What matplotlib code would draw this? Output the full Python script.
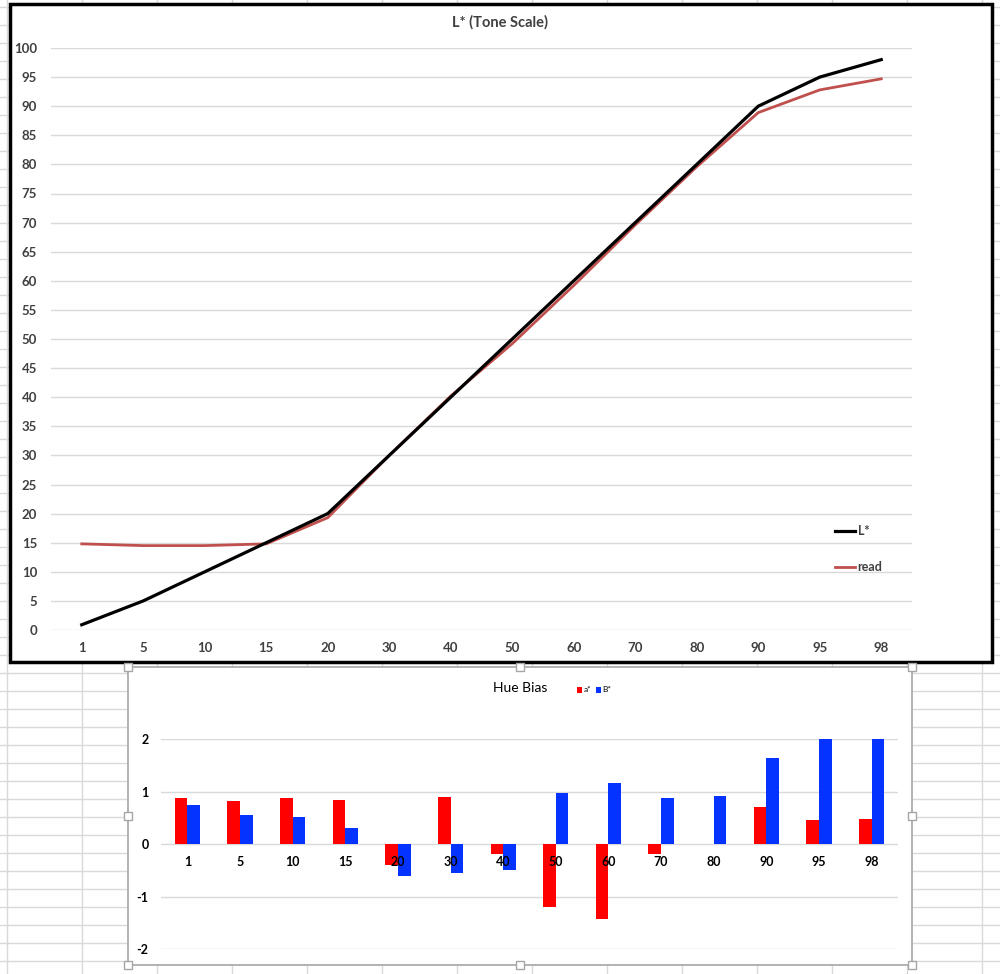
import matplotlib

matplotlib.use("Agg")

import matplotlib.pyplot as plt
import numpy as np
from matplotlib.lines import Line2D
from matplotlib.patches import Rectangle

plt.rcParams["font.family"] = ["Lato", "DejaVu Sans"]
plt.rcParams["axes.unicode_minus"] = False

# tone scale steps (x categories), shared by both charts
steps = ["1", "5", "10", "15", "20", "30", "40", "50", "60", "70", "80", "90", "95", "98"]

# L* target vs. measured ("read")
l_target = [0.9, 5, 10, 15, 20, 30, 40, 50, 60, 70, 80, 90, 95, 98]
l_read = [14.8, 14.5, 14.5, 14.8, 19.3, 30, 40.2, 49.2, 59.2, 69.6, 79.6, 88.9, 92.8, 94.7]

# hue bias per step
a_star = [0.87, 0.82, 0.87, 0.84, -0.39, 0.90, -0.18, -1.19, -1.43, -0.18, 0.0, 0.71, 0.46, 0.48]
b_star = [0.75, 0.55, 0.52, 0.31, -0.61, -0.55, -0.49, 0.97, 1.17, 0.87, 0.92, 1.64, 2.0, 2.0]

W, H = 1000, 974
GRID = "#d9d9d9"
TXT = "#404040"


def fx(px):
    return px / W


def fy(py):
    return 1 - py / H


fig = plt.figure(figsize=(W / 100, H / 100), dpi=100)
fig.patch.set_facecolor("white")

# spreadsheet cells behind the charts
for x in np.arange(7, W, 75):
    fig.add_artist(Line2D([fx(x), fx(x)], [0, 1], color=GRID, lw=1, zorder=-5))
for y in np.arange(7, H, 18):
    fig.add_artist(Line2D([0, 1], [fy(y), fy(y)], color=GRID, lw=1, zorder=-5))

# chart frames
fig.add_artist(Rectangle((fx(10), fy(662)), fx(982), 658 / H, facecolor="white",
                         edgecolor="black", lw=2.5, zorder=-2))
fig.add_artist(Rectangle((fx(128), fy(965)), fx(784), 298 / H, facecolor="white",
                         edgecolor="#a6a6a6", lw=1.2, zorder=-2))
for hx in (128, 520, 912):
    for hy in (667, 816, 965):
        if hx == 520 and hy == 816:
            continue
        fig.add_artist(Rectangle((fx(hx - 4), fy(hy + 4)), fx(8), 8 / H, facecolor="white",
                                 edgecolor="#a6a6a6", lw=1, zorder=5))

x = np.arange(len(steps))

# ---- top chart: L* tone scale ----
ax = fig.add_axes([fx(51), fy(630), fx(861), 582 / H])
ax.set_facecolor("none")
ax.plot(x, l_target, color="black", lw=2.3, label="L*", zorder=3)
ax.plot(x, l_read, color="#c0504d", lw=2.0, label="read", zorder=2)
ax.set_xlim(-0.5, len(steps) - 0.5)
ax.set_ylim(0, 100)
ax.set_yticks(np.arange(0, 101, 5))
ax.set_xticks(x)
ax.set_xticklabels(steps)
ax.grid(axis="y", color=GRID, lw=1)
ax.set_axisbelow(True)
for s in ax.spines.values():
    s.set_visible(False)
ax.tick_params(length=0, labelsize=9.5, labelcolor=TXT)
ax.tick_params(axis="y", pad=10)
ax.tick_params(axis="x", pad=9)
for lab in ax.get_xticklabels() + ax.get_yticklabels():
    lab.set_fontweight("bold")
fig.text(fx(500), fy(22), "L* (Tone Scale)", ha="center", va="center",
         fontsize=10.5, fontweight="bold", color=TXT)
leg = ax.legend(loc="center", bbox_to_anchor=(0.938, 0.139), frameon=False,
                handlelength=1.6, handletextpad=0.25, labelspacing=1.9, fontsize=9)
for t in leg.get_texts():
    t.set_fontweight("bold")
    t.set_color(TXT)

# ---- bottom chart: hue bias ----
bx = fig.add_axes([fx(161), fy(949.3), fx(737), 210.3 / H])
bx.set_facecolor("none")
bw = 0.24
bx.bar(x - bw / 2, a_star, width=bw, color="#ff0000", label="a*", zorder=3)
bx.bar(x + bw / 2, b_star, width=bw, color="#0433ff", label="B*", zorder=3)
bx.set_xlim(-0.5, len(steps) - 0.5)
bx.set_ylim(-2, 2)
bx.set_yticks([-2, -1, 0, 1, 2])
bx.set_xticks(x)
bx.set_xticklabels([])
bx.grid(axis="y", color=GRID, lw=1)
bx.set_axisbelow(True)
for s in bx.spines.values():
    s.set_visible(False)
bx.tick_params(length=0, labelsize=9, labelcolor="black")
bx.tick_params(axis="y", pad=9)
for lab in bx.get_yticklabels():
    lab.set_fontweight("bold")
# category labels sit just under the zero line, drawn over the bars
for i, s in enumerate(steps):
    bx.annotate(s, (i, 0), xytext=(0, -13), textcoords="offset points", ha="center",
                va="center", fontsize=9, fontweight="bold", color="black", zorder=6)
fig.text(fx(520), fy(688), "Hue Bias", ha="center", va="center", fontsize=10, color="black")
bx.legend(loc="center", bbox_to_anchor=((594 - 161) / 737, (949.3 - 690) / 210.3),
          frameon=False, ncol=2, fontsize=6, handlelength=0.6, handleheight=0.7,
          handletextpad=0.2, columnspacing=0.6)

fig.savefig("out.png", dpi=100)
